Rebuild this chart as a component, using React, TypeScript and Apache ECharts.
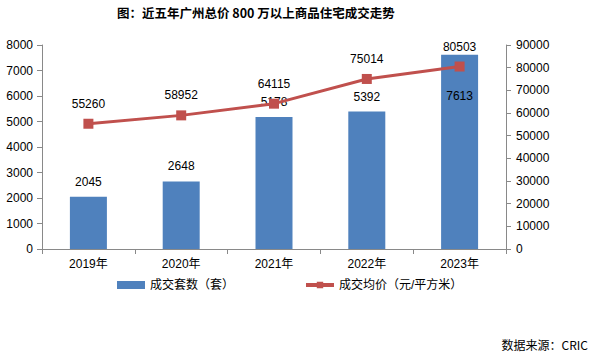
import React, { useEffect, useRef } from "react";
import * as echarts from "echarts";

const categories = ["2019年", "2020年", "2021年", "2022年", "2023年"];
const volumes = [2045, 2648, 5178, 5392, 7613];
const prices = [55260, 58952, 64115, 75014, 80503];
const leftTicks = { min: 0, max: 8000, interval: 1000 };
const rightTicks = { min: 0, max: 90000, interval: 10000 };

const FONT = "'Liberation Sans', 'Noto Sans CJK SC', sans-serif";
const AXIS_COLOR = "#898989";
const plain = (v: number) => String(v);

export default function App() {
  const ref = useRef<HTMLDivElement>(null);
  useEffect(() => {
    if (!ref.current) return;
    const chart = echarts.init(ref.current, undefined, { renderer: "svg" });
    const barData = volumes.map((v, i) =>
      i === volumes.length - 1
        ? { value: v, label: { position: "insideTop", distance: 5, offset: [0, 30] } }
        : v
    );
    chart.setOption({
      animation: false,
      backgroundColor: "#ffffff",
      textStyle: { fontFamily: FONT },
      title: {
        text: "图：近五年广州总价 800 万以上商品住宅成交走势",
        left: 117,
        top: 6,
        padding: 0,
        textStyle: { fontSize: 12.5, fontWeight: "bold", color: "#000", fontFamily: "'Noto Sans CJK SC', sans-serif" },
      },
      graphic: [
        {
          type: "text",
          right: 4,
          top: 338,
          style: { text: "数据来源：CRIC", fontSize: 12, fill: "#000", fontFamily: "'Noto Sans CJK SC', sans-serif" },
        },
      ],
      legend: {
        left: 117,
        top: 279,
        padding: 0,
        itemWidth: 28,
        itemHeight: 8,
        itemGap: 70,
        textStyle: { fontSize: 12, color: "#000", fontFamily: FONT },
        data: [
          { name: "成交套数（套）", icon: "rect" },
          { name: "成交均价（元/平方米）", lineStyle: { width: 4 } },
        ],
      },
      grid: { left: 42, right: 86, top: 45, bottom: 109, containLabel: false },
      xAxis: {
        type: "category",
        data: categories,
        axisLine: { lineStyle: { color: AXIS_COLOR } },
        axisTick: { show: true, length: 5, lineStyle: { color: AXIS_COLOR } },
        axisLabel: { color: "#000", fontSize: 12, margin: 9, fontFamily: FONT },
      },
      yAxis: [
        {
          type: "value",
          ...leftTicks,
          axisLine: { show: true, lineStyle: { color: AXIS_COLOR } },
          axisTick: { show: true, length: 5, lineStyle: { color: AXIS_COLOR } },
          splitLine: { show: false },
          axisLabel: { color: "#000", fontSize: 12, margin: 9, fontFamily: FONT, formatter: plain },
        },
        {
          type: "value",
          ...rightTicks,
          position: "right",
          axisLine: { show: true, lineStyle: { color: AXIS_COLOR } },
          axisTick: { show: true, length: 5, lineStyle: { color: AXIS_COLOR } },
          splitLine: { show: false },
          axisLabel: { color: "#000", fontSize: 12, margin: 10, fontFamily: FONT, formatter: plain },
        },
      ],
      series: [
        {
          name: "成交套数（套）",
          type: "bar",
          data: barData,
          barWidth: 37,
          itemStyle: { color: "#4F81BD" },
          label: { show: true, position: "top", distance: 9, color: "#000", fontSize: 12, fontFamily: FONT },
          z: 1,
        },
        {
          name: "成交均价（元/平方米）",
          type: "line",
          yAxisIndex: 1,
          data: prices,
          symbol: "rect",
          symbolSize: 10,
          lineStyle: { color: "#C0504D", width: 3 },
          itemStyle: { color: "#C0504D" },
          label: { show: true, position: "top", distance: 9, color: "#000", fontSize: 12, fontFamily: FONT },
          z: 2,
        },
      ],
    });
    return () => chart.dispose();
  }, []);
  return (
    <div
      ref={ref}
      style={{ position: "absolute", left: 0, top: 0, width: 592, height: 358 }}
    />
  );
}
